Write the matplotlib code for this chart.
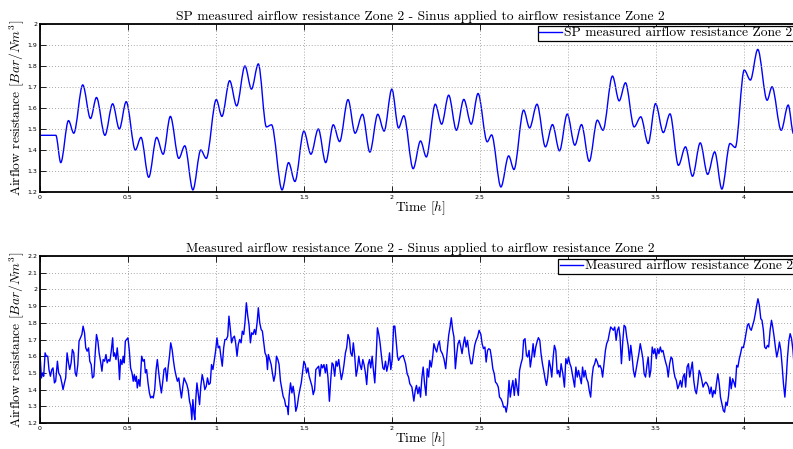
import numpy as np
import matplotlib
matplotlib.use('Agg')
import matplotlib.pyplot as plt
from matplotlib.path import Path
from matplotlib.patches import PathPatch
from matplotlib.lines import Line2D

plt.rcParams['mathtext.fontset'] = 'cm'
plt.rcParams['font.family'] = 'cmr10'
plt.rcParams['axes.formatter.use_mathtext'] = True

# setpoint: turning points of the sinus-modulated resistance (time in h)
t_sp = [0.000, 0.090, 0.118, 0.162, 0.192, 0.243, 0.287, 0.321, 0.369, 0.413,
        0.451, 0.490, 0.542, 0.574, 0.618, 0.663, 0.700, 0.741, 0.789, 0.823,
        0.869, 0.914, 0.945, 1.002, 1.034, 1.078, 1.118, 1.165, 1.202, 1.241,
        1.287, 1.316, 1.376, 1.413, 1.449, 1.500, 1.540, 1.582, 1.624, 1.667,
        1.703, 1.751, 1.791, 1.833, 1.875, 1.920, 1.956, 2.000, 2.038, 2.068,
        2.121, 2.163, 2.196, 2.247, 2.283, 2.323, 2.367, 2.409, 2.451, 2.490,
        2.542, 2.567, 2.620, 2.664, 2.694, 2.749, 2.783, 2.825, 2.873, 2.913,
        2.953, 2.997, 3.040, 3.078, 3.122, 3.168, 3.200, 3.254, 3.292, 3.328,
        3.377, 3.415, 3.457, 3.499, 3.543, 3.581, 3.629, 3.669, 3.709, 3.753,
        3.795, 3.835, 3.876, 3.922, 3.952, 4.003, 4.038, 4.080, 4.133, 4.161,
        4.213, 4.253, 4.283]
r_sp = [1.470, 1.470, 1.340, 1.540, 1.480, 1.710, 1.550, 1.650, 1.470, 1.620,
        1.500, 1.630, 1.400, 1.460, 1.270, 1.460, 1.380, 1.560, 1.360, 1.420,
        1.210, 1.400, 1.360, 1.640, 1.560, 1.730, 1.610, 1.800, 1.690, 1.810,
        1.510, 1.520, 1.210, 1.340, 1.250, 1.490, 1.380, 1.500, 1.340, 1.520,
        1.440, 1.640, 1.480, 1.570, 1.390, 1.570, 1.490, 1.690, 1.505, 1.563,
        1.311, 1.443, 1.367, 1.618, 1.523, 1.661, 1.494, 1.641, 1.523, 1.669,
        1.439, 1.472, 1.224, 1.372, 1.307, 1.590, 1.505, 1.618, 1.415, 1.521,
        1.396, 1.571, 1.423, 1.521, 1.346, 1.542, 1.494, 1.752, 1.634, 1.720,
        1.510, 1.558, 1.431, 1.621, 1.483, 1.572, 1.327, 1.415, 1.275, 1.434,
        1.284, 1.391, 1.214, 1.431, 1.412, 1.781, 1.733, 1.879, 1.637, 1.701,
        1.494, 1.614, 1.478]

# measured resistance
t_meas = [0.000, 0.008, 0.015, 0.021, 0.029, 0.036, 0.044, 0.051, 0.059, 0.067,
          0.074, 0.082, 0.089, 0.099, 0.106, 0.116, 0.124, 0.131, 0.139, 0.146,
          0.154, 0.162, 0.169, 0.177, 0.184, 0.192, 0.200, 0.207, 0.215, 0.222,
          0.230, 0.238, 0.245, 0.253, 0.260, 0.268, 0.276, 0.283, 0.291, 0.298,
          0.306, 0.314, 0.321, 0.329, 0.336, 0.344, 0.352, 0.359, 0.367, 0.375,
          0.382, 0.390, 0.397, 0.405, 0.413, 0.418, 0.424, 0.432, 0.439, 0.447,
          0.452, 0.458, 0.466, 0.473, 0.479, 0.485, 0.492, 0.500, 0.508, 0.515,
          0.523, 0.530, 0.536, 0.542, 0.548, 0.553, 0.561, 0.568, 0.578, 0.586,
          0.593, 0.599, 0.606, 0.614, 0.622, 0.629, 0.637, 0.644, 0.652, 0.660,
          0.667, 0.675, 0.683, 0.690, 0.698, 0.705, 0.713, 0.721, 0.728, 0.736,
          0.743, 0.751, 0.759, 0.766, 0.774, 0.781, 0.789, 0.797, 0.804, 0.812,
          0.819, 0.827, 0.835, 0.842, 0.850, 0.857, 0.863, 0.869, 0.875, 0.880,
          0.886, 0.892, 0.899, 0.907, 0.914, 0.922, 0.930, 0.937, 0.945, 0.952,
          0.960, 0.968, 0.975, 0.983, 0.990, 0.998, 1.006, 1.013, 1.021, 1.028,
          1.036, 1.044, 1.051, 1.059, 1.067, 1.074, 1.082, 1.089, 1.097, 1.105,
          1.112, 1.120, 1.127, 1.135, 1.143, 1.150, 1.158, 1.165, 1.173, 1.181,
          1.188, 1.196, 1.203, 1.211, 1.219, 1.226, 1.234, 1.241, 1.249, 1.257,
          1.264, 1.272, 1.279, 1.287, 1.293, 1.298, 1.306, 1.314, 1.321, 1.329,
          1.337, 1.344, 1.352, 1.359, 1.367, 1.375, 1.382, 1.390, 1.397, 1.405,
          1.411, 1.416, 1.424, 1.432, 1.439, 1.447, 1.454, 1.462, 1.470, 1.477,
          1.485, 1.492, 1.500, 1.508, 1.515, 1.523, 1.530, 1.538, 1.546, 1.553,
          1.561, 1.568, 1.576, 1.584, 1.591, 1.599, 1.606, 1.614, 1.622, 1.629,
          1.637, 1.645, 1.652, 1.660, 1.667, 1.675, 1.683, 1.690, 1.698, 1.705,
          1.713, 1.721, 1.728, 1.736, 1.743, 1.751, 1.759, 1.766, 1.774, 1.781,
          1.789, 1.797, 1.804, 1.812, 1.819, 1.827, 1.835, 1.842, 1.850, 1.857,
          1.865, 1.873, 1.880, 1.888, 1.895, 1.903, 1.911, 1.918, 1.926, 1.933,
          1.941, 1.949, 1.956, 1.964, 1.971, 1.979, 1.987, 1.994, 2.002, 2.010,
          2.017, 2.025, 2.032, 2.038, 2.049, 2.064, 2.078, 2.087, 2.095, 2.102,
          2.114, 2.125, 2.133, 2.140, 2.148, 2.156, 2.163, 2.171, 2.178, 2.186,
          2.194, 2.201, 2.209, 2.216, 2.224, 2.232, 2.239, 2.247, 2.255, 2.262,
          2.270, 2.277, 2.287, 2.296, 2.306, 2.315, 2.323, 2.331, 2.338, 2.346,
          2.353, 2.361, 2.369, 2.376, 2.384, 2.392, 2.399, 2.407, 2.414, 2.422,
          2.430, 2.439, 2.449, 2.456, 2.464, 2.471, 2.479, 2.487, 2.496, 2.506,
          2.513, 2.521, 2.529, 2.536, 2.544, 2.551, 2.559, 2.567, 2.574, 2.582,
          2.589, 2.597, 2.605, 2.612, 2.620, 2.628, 2.635, 2.643, 2.650, 2.658,
          2.666, 2.673, 2.681, 2.688, 2.696, 2.704, 2.711, 2.719, 2.726, 2.734,
          2.742, 2.749, 2.757, 2.765, 2.772, 2.780, 2.787, 2.795, 2.803, 2.810,
          2.818, 2.825, 2.833, 2.841, 2.848, 2.856, 2.863, 2.871, 2.879, 2.886,
          2.894, 2.902, 2.909, 2.917, 2.924, 2.932, 2.940, 2.947, 2.955, 2.962,
          2.972, 2.981, 2.989, 2.997, 3.004, 3.012, 3.019, 3.029, 3.039, 3.046,
          3.054, 3.061, 3.069, 3.077, 3.084, 3.092, 3.099, 3.107, 3.115, 3.122,
          3.130, 3.138, 3.145, 3.153, 3.160, 3.168, 3.176, 3.183, 3.191, 3.198,
          3.206, 3.214, 3.221, 3.229, 3.236, 3.244, 3.252, 3.259, 3.267, 3.275,
          3.282, 3.290, 3.297, 3.305, 3.313, 3.320, 3.328, 3.335, 3.343, 3.351,
          3.358, 3.366, 3.373, 3.381, 3.389, 3.396, 3.404, 3.412, 3.419, 3.427,
          3.434, 3.442, 3.450, 3.457, 3.465, 3.472, 3.480, 3.488, 3.495, 3.503,
          3.511, 3.518, 3.526, 3.533, 3.541, 3.549, 3.556, 3.564, 3.571, 3.579,
          3.587, 3.594, 3.602, 3.609, 3.617, 3.625, 3.632, 3.640, 3.648, 3.655,
          3.663, 3.670, 3.678, 3.686, 3.693, 3.701, 3.708, 3.716, 3.724, 3.731,
          3.739, 3.747, 3.754, 3.762, 3.769, 3.777, 3.785, 3.792, 3.800, 3.807,
          3.815, 3.823, 3.830, 3.838, 3.845, 3.853, 3.861, 3.868, 3.876, 3.884,
          3.891, 3.899, 3.906, 3.914, 3.922, 3.929, 3.937, 3.944, 3.952, 3.960,
          3.967, 3.975, 3.982, 3.990, 3.998, 4.005, 4.013, 4.021, 4.028, 4.036,
          4.043, 4.051, 4.059, 4.066, 4.074, 4.081, 4.089, 4.097, 4.104, 4.112,
          4.119, 4.127, 4.135, 4.142, 4.150, 4.158, 4.165, 4.173, 4.180, 4.188,
          4.196, 4.203, 4.211, 4.219, 4.226, 4.234, 4.241, 4.249, 4.257, 4.264,
          4.272, 4.280, 4.287]
r_meas = [1.615, 1.470, 1.500, 1.480, 1.620, 1.600, 1.600, 1.520, 1.480, 1.520,
          1.530, 1.440, 1.450, 1.570, 1.500, 1.480, 1.440, 1.400, 1.440, 1.470,
          1.620, 1.560, 1.520, 1.560, 1.640, 1.620, 1.500, 1.480, 1.550, 1.690,
          1.710, 1.730, 1.780, 1.740, 1.650, 1.630, 1.650, 1.570, 1.550, 1.470,
          1.480, 1.620, 1.730, 1.690, 1.620, 1.570, 1.510, 1.580, 1.570, 1.610,
          1.560, 1.580, 1.570, 1.630, 1.710, 1.600, 1.620, 1.580, 1.650, 1.560,
          1.460, 1.580, 1.550, 1.600, 1.560, 1.690, 1.700, 1.710, 1.630, 1.530,
          1.500, 1.450, 1.490, 1.450, 1.480, 1.410, 1.460, 1.420, 1.600, 1.570,
          1.580, 1.500, 1.520, 1.440, 1.380, 1.350, 1.360, 1.350, 1.400, 1.520,
          1.580, 1.500, 1.430, 1.380, 1.450, 1.520, 1.530, 1.450, 1.530, 1.600,
          1.680, 1.640, 1.570, 1.520, 1.480, 1.450, 1.470, 1.400, 1.350, 1.420,
          1.470, 1.450, 1.430, 1.400, 1.330, 1.300, 1.220, 1.340, 1.260, 1.220,
          1.350, 1.440, 1.380, 1.310, 1.420, 1.490, 1.450, 1.400, 1.420, 1.470,
          1.430, 1.440, 1.550, 1.520, 1.570, 1.630, 1.710, 1.650, 1.660, 1.600,
          1.540, 1.650, 1.700, 1.700, 1.720, 1.840, 1.760, 1.680, 1.710, 1.720,
          1.680, 1.600, 1.670, 1.700, 1.680, 1.750, 1.730, 1.800, 1.920, 1.840,
          1.790, 1.680, 1.740, 1.730, 1.760, 1.730, 1.800, 1.890, 1.800, 1.760,
          1.750, 1.680, 1.620, 1.600, 1.520, 1.610, 1.580, 1.550, 1.500, 1.450,
          1.490, 1.600, 1.580, 1.550, 1.450, 1.400, 1.360, 1.340, 1.300, 1.300,
          1.250, 1.360, 1.440, 1.380, 1.420, 1.360, 1.270, 1.300, 1.360, 1.400,
          1.440, 1.500, 1.570, 1.550, 1.500, 1.530, 1.480, 1.450, 1.420, 1.370,
          1.400, 1.520, 1.530, 1.540, 1.480, 1.550, 1.530, 1.550, 1.500, 1.550,
          1.470, 1.330, 1.450, 1.560, 1.550, 1.480, 1.570, 1.540, 1.580, 1.520,
          1.460, 1.500, 1.550, 1.620, 1.650, 1.730, 1.700, 1.620, 1.600, 1.680,
          1.600, 1.480, 1.520, 1.600, 1.550, 1.520, 1.580, 1.550, 1.500, 1.430,
          1.550, 1.580, 1.530, 1.600, 1.520, 1.440, 1.600, 1.770, 1.730, 1.680,
          1.600, 1.530, 1.520, 1.570, 1.510, 1.550, 1.620, 1.520, 1.580, 1.780,
          1.780, 1.680, 1.600, 1.575, 1.595, 1.605, 1.555, 1.495, 1.475, 1.435,
          1.415, 1.331, 1.395, 1.425, 1.375, 1.415, 1.355, 1.475, 1.535, 1.435,
          1.365, 1.525, 1.475, 1.575, 1.535, 1.595, 1.675, 1.645, 1.625, 1.665,
          1.691, 1.635, 1.615, 1.585, 1.525, 1.635, 1.725, 1.775, 1.830, 1.755,
          1.715, 1.525, 1.615, 1.675, 1.695, 1.655, 1.615, 1.675, 1.715, 1.655,
          1.695, 1.615, 1.555, 1.555, 1.615, 1.665, 1.695, 1.715, 1.755, 1.730,
          1.675, 1.645, 1.655, 1.565, 1.635, 1.645, 1.639, 1.585, 1.525, 1.495,
          1.445, 1.435, 1.415, 1.355, 1.345, 1.325, 1.295, 1.299, 1.265, 1.315,
          1.455, 1.355, 1.415, 1.455, 1.365, 1.465, 1.415, 1.365, 1.515, 1.555,
          1.585, 1.695, 1.705, 1.605, 1.595, 1.635, 1.535, 1.595, 1.675, 1.595,
          1.655, 1.685, 1.711, 1.695, 1.615, 1.555, 1.515, 1.465, 1.425, 1.475,
          1.575, 1.535, 1.475, 1.595, 1.665, 1.635, 1.495, 1.515, 1.475, 1.555,
          1.495, 1.415, 1.585, 1.555, 1.595, 1.555, 1.535, 1.475, 1.415, 1.535,
          1.475, 1.515, 1.475, 1.435, 1.535, 1.475, 1.515, 1.465, 1.445, 1.395,
          1.355, 1.475, 1.535, 1.555, 1.585, 1.565, 1.535, 1.545, 1.525, 1.475,
          1.555, 1.635, 1.675, 1.695, 1.735, 1.775, 1.765, 1.755, 1.775, 1.695,
          1.755, 1.775, 1.715, 1.555, 1.695, 1.785, 1.775, 1.715, 1.665, 1.575,
          1.665, 1.595, 1.515, 1.475, 1.525, 1.565, 1.615, 1.675, 1.635, 1.585,
          1.495, 1.475, 1.545, 1.595, 1.475, 1.515, 1.655, 1.615, 1.645, 1.585,
          1.645, 1.615, 1.655, 1.625, 1.635, 1.595, 1.565, 1.535, 1.475, 1.555,
          1.595, 1.585, 1.515, 1.475, 1.455, 1.405, 1.425, 1.455, 1.415, 1.475,
          1.495, 1.415, 1.535, 1.555, 1.475, 1.525, 1.565, 1.455, 1.395, 1.375,
          1.435, 1.515, 1.495, 1.455, 1.415, 1.435, 1.445, 1.435, 1.415, 1.375,
          1.415, 1.355, 1.395, 1.375, 1.435, 1.495, 1.435, 1.355, 1.315, 1.275,
          1.265, 1.325, 1.305, 1.365, 1.475, 1.405, 1.465, 1.445, 1.415, 1.545,
          1.535, 1.585, 1.615, 1.655, 1.651, 1.685, 1.735, 1.785, 1.795, 1.765,
          1.755, 1.785, 1.815, 1.855, 1.905, 1.944, 1.905, 1.825, 1.815, 1.755,
          1.655, 1.645, 1.665, 1.655, 1.755, 1.815, 1.775, 1.715, 1.655, 1.595,
          1.635, 1.685, 1.635, 1.535, 1.435, 1.355, 1.455, 1.595, 1.695, 1.735,
          1.705, 1.635, 1.535]

x_ticks = [0, 0.5, 1, 1.5, 2, 2.5, 3, 3.5, 4]
x_ticklabels = ['0', '0.5', '1', '1.5', '2', '2.5', '3', '3.5', '4']
y_ticks_top = [1.2, 1.3, 1.4, 1.5, 1.6, 1.7, 1.8, 1.9, 2.0]
y_ticklabels_top = ['1.2', '1.3', '1.4', '1.5', '1.6', '1.7', '1.8', '1.9', '2']
y_ticks_bot = [1.2, 1.3, 1.4, 1.5, 1.6, 1.7, 1.8, 1.9, 2.0, 2.1, 2.2]
y_ticklabels_bot = ['1.2', '1.3', '1.4', '1.5', '1.6', '1.7', '1.8', '1.9', '2', '2.1', '2.2']

FS = 9.7


def smooth_path(t, r):
    # cubic segments with flat tangents at each turning point
    verts = [(t[0], r[0])]
    codes = [Path.MOVETO]
    for i in range(1, len(t)):
        dt = t[i] - t[i - 1]
        verts += [(t[i - 1] + dt / 3.0, r[i - 1]), (t[i] - dt / 3.0, r[i]), (t[i], r[i])]
        codes += [Path.CURVE4] * 3
    return Path(verts, codes)


def style_axes(ax, yticks, ylabels):
    ax.set_xlim(0, 4.32)
    ax.set_ylim(yticks[0], yticks[-1])
    ax.set_xticks(x_ticks)
    ax.set_xticklabels(x_ticklabels, family='DejaVu Sans', fontsize=4.5)
    ax.set_yticks(yticks)
    ax.set_yticklabels(ylabels, family='DejaVu Sans', fontsize=4.5)
    ax.tick_params(direction='in', length=4, width=0.6, top=True, right=True, pad=2)
    ax.grid(True, color='0.55', linestyle=(0, (1, 2.5)), linewidth=0.6)
    for s in ax.spines.values():
        s.set_linewidth(1.3)
    ax.set_xlabel('Time $[h]$', fontsize=FS, labelpad=0)
    ax.set_ylabel('Airflow resistance $[Bar/Nm^3]$', fontsize=FS, labelpad=1)


fig = plt.figure(figsize=(7.93, 4.49), dpi=100)
ax1 = fig.add_axes([40 / 793, 1 - 192 / 449, 760 / 793, 168 / 449])
ax2 = fig.add_axes([40 / 793, 1 - 423 / 449, 760 / 793, 167 / 449])

ax1.add_patch(PathPatch(smooth_path(t_sp, r_sp), facecolor='none', edgecolor='b', linewidth=1.0))
style_axes(ax1, y_ticks_top, y_ticklabels_top)
ax1.set_title('SP measured airflow resistance Zone 2 - Sinus applied to airflow resistance Zone 2',
              fontsize=FS, pad=3)
ax1.legend(handles=[Line2D([], [], color='b', linewidth=1.0)],
           labels=['SP measured airflow resistance Zone 2'],
           loc='upper left', bbox_to_anchor=(0.655, 0.99), fontsize=FS,
           frameon=True, fancybox=False, framealpha=1, edgecolor='k',
           borderpad=0.1, borderaxespad=0, handlelength=1.7, handletextpad=0.15)

ax2.plot(t_meas, r_meas, color='b', linewidth=1.0)
style_axes(ax2, y_ticks_bot, y_ticklabels_bot)
ax2.set_title('Measured airflow resistance Zone 2 - Sinus applied to airflow resistance Zone 2',
              fontsize=FS, pad=3)
ax2.legend(labels=['Measured airflow resistance Zone 2'], handles=ax2.get_lines(),
           loc='upper left', bbox_to_anchor=(0.682, 0.985), fontsize=FS,
           frameon=True, fancybox=False, framealpha=1, edgecolor='k',
           borderpad=0.1, borderaxespad=0, handlelength=1.7, handletextpad=0.15)

for leg in [ax1.get_legend(), ax2.get_legend()]:
    leg.get_frame().set_linewidth(0.9)

fig.savefig('out.png', dpi=100)
